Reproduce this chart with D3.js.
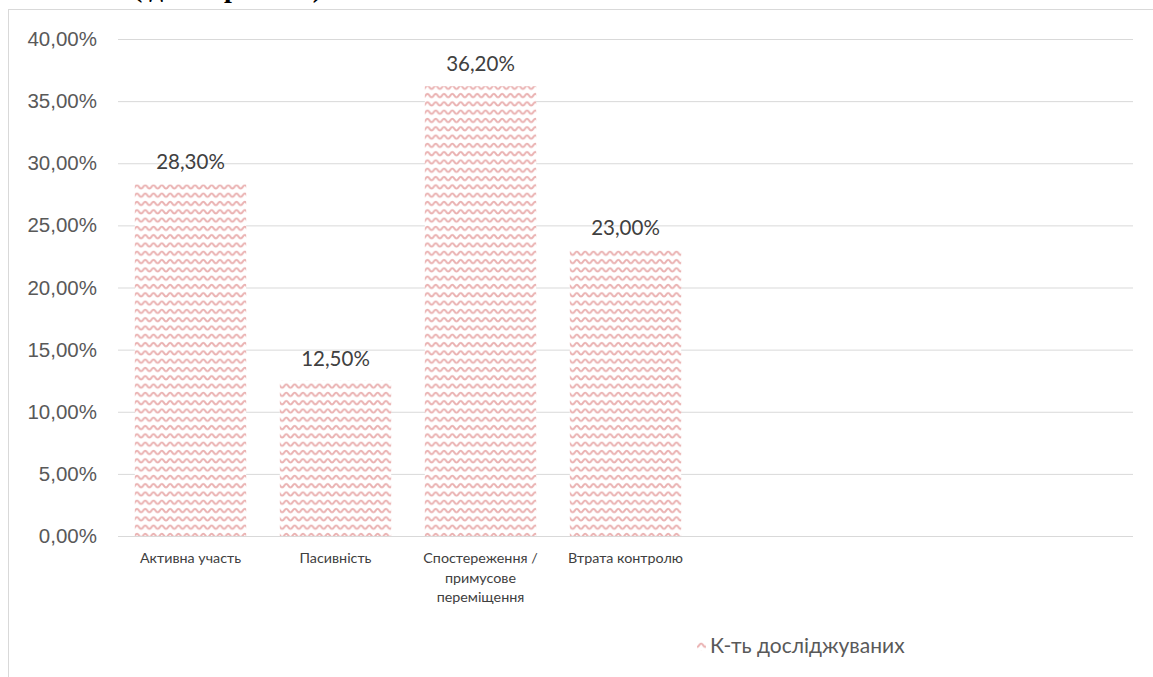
<!DOCTYPE html>
<html>
<head>
<meta charset="utf-8">
<script src="https://cdn.jsdelivr.net/npm/d3@7"></script>
<style>
  body { margin: 0; background: #fff; }
  svg { display: block; font-family: Lato, "Open Sans", sans-serif; }
</style>
</head>
<body>
<div id="chart"></div>
<script>
// data
var categories = ["Активна участь", "Пасивність", "Спостереження / примусове переміщення", "Втрата контролю", "", "", ""];
var values = [0.283, 0.125, 0.362, 0.23, null, null, null];
var yTicks = [0, 0.05, 0.10, 0.15, 0.20, 0.25, 0.30, 0.35, 0.40];
var seriesName = "К-ть досліджуваних";

var width = 1153, height = 677;
var margin = { top: 39, left: 118, bottom: 141, right: 20 };

var svg = d3.select("#chart").append("svg")
    .attr("width", width)
    .attr("height", height);

var defs = svg.append("defs");
var pat = defs.append("pattern")
    .attr("id", "wave")
    .attr("patternUnits", "userSpaceOnUse")
    .attr("width", 16.6)
    .attr("height", 8.3);
pat.append("rect").attr("width", 16.6).attr("height", 8.3).attr("fill", "#fff");
pat.append("path")
    .attr("d", "M0,6 C2,6 2.5,2.5 4.15,2.5 C5.8,2.5 6.3,6 8.3,6 C10.3,6 10.8,2.5 12.45,2.5 C14.1,2.5 14.6,6 16.6,6")
    .attr("fill", "none")
    .attr("stroke", "#eab1b1")
    .attr("stroke-width", 2);

// cut-off title above the chart box
svg.append("text")
    .attr("x", 133)
    .attr("y", -3)
    .attr("textLength", 189)
    .attr("lengthAdjust", "spacing")
    .attr("font-family", "'Liberation Serif', serif")
    .attr("font-weight", "bold")
    .attr("font-size", 28)
    .attr("fill", "#000")
    .text("(діаграма)");

// chart border
svg.append("rect")
    .attr("x", 8.5).attr("y", 9.5)
    .attr("width", 1160).attr("height", 700)
    .attr("fill", "none")
    .attr("stroke", "#d9d9d9");

var x = d3.scaleBand()
    .domain(categories.map(function(d, i) { return i; }))
    .range([margin.left, 1133])
    .paddingInner(0.232)
    .paddingOuter(0.116);

var y = d3.scaleLinear()
    .domain([0, 0.40])
    .range([536, margin.top]);

var fmt = function(v) { return (v * 100).toFixed(2).replace(".", ",") + "%"; };

// grid
var yAxis = d3.axisLeft(y)
    .tickValues(yTicks)
    .tickSize(-(1133 - margin.left))
    .tickFormat(fmt)
    .tickPadding(21);

var gy = svg.append("g")
    .attr("transform", "translate(" + margin.left + ",0)")
    .call(yAxis);
gy.select(".domain").remove();
gy.selectAll(".tick line").attr("stroke", "#d9d9d9");
gy.selectAll(".tick text")
    .attr("fill", "#595959")
    .attr("font-size", 20.5);

// bars
var data = values.map(function(v, i) { return { i: i, v: v }; })
    .filter(function(d) { return d.v != null; });

svg.selectAll(".bar")
    .data(data)
    .enter().append("rect")
    .attr("class", "bar")
    .attr("x", function(d) { return x(d.i); })
    .attr("width", x.bandwidth())
    .attr("y", function(d) { return y(d.v); })
    .attr("height", function(d) { return y(0) - y(d.v); })
    .attr("fill", "url(#wave)");

// x axis line
svg.append("line")
    .attr("x1", margin.left).attr("x2", 1133)
    .attr("y1", y(0) + 0.5).attr("y2", y(0) + 0.5)
    .attr("stroke", "#d9d9d9");

// value labels
svg.selectAll(".val")
    .data(data)
    .enter().append("text")
    .attr("class", "val")
    .attr("x", function(d) { return x(d.i) + x.bandwidth() / 2; })
    .attr("y", function(d) { return y(d.v) - 15; })
    .attr("text-anchor", "middle")
    .attr("font-size", 20.5)
    .attr("fill", "#404040")
    .text(function(d) { return fmt(d.v); });

// category labels (wrapped like the original)
var wrapped = {
  "Спостереження / примусове переміщення": ["Спостереження /", "примусове", "переміщення"]
};
var cat = svg.selectAll(".cat")
    .data(categories)
    .enter().append("text")
    .attr("class", "cat")
    .attr("x", function(d, i) { return x(i) + x.bandwidth() / 2; })
    .attr("y", 563)
    .attr("text-anchor", "middle")
    .attr("font-size", 14.3)
    .attr("fill", "#404040");
cat.each(function(d) {
  var lines = wrapped[d] || [d];
  var t = d3.select(this);
  lines.forEach(function(l, k) {
    t.append("tspan")
      .attr("x", t.attr("x"))
      .attr("dy", k === 0 ? 0 : 19.5)
      .text(l);
  });
});

// legend
var lg = svg.append("g").attr("transform", "translate(697,641)");
lg.append("rect")
    .attr("width", 9).attr("height", 10)
    .attr("fill", "url(#wave)");
lg.append("text")
    .attr("x", 13).attr("y", 12)
    .attr("font-size", 21)
    .attr("fill", "#595959")
    .text(seriesName);
</script>
</body>
</html>
